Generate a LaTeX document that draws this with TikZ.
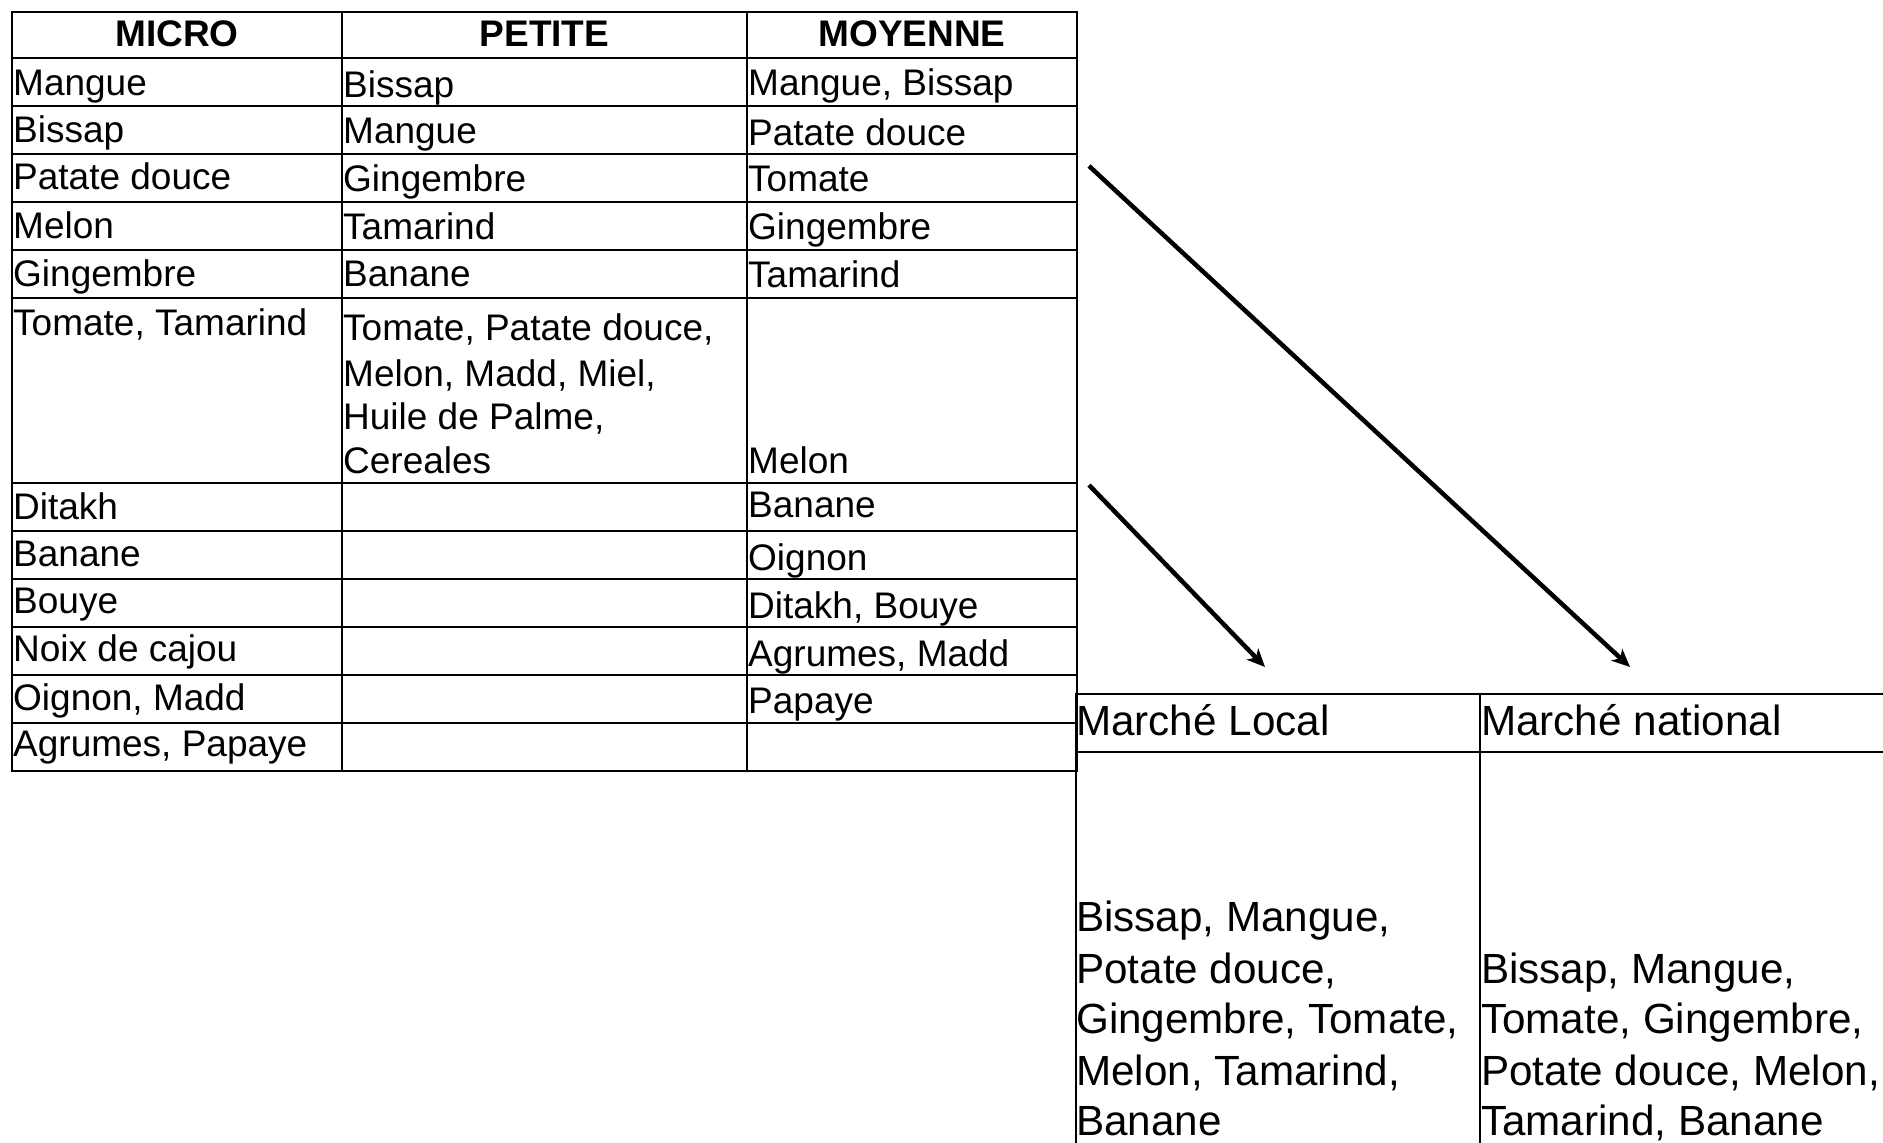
\documentclass[tikz,border=0pt]{standalone}
\usepackage{fontspec}
\setmainfont{Liberation Sans}
\usetikzlibrary{arrows.meta}
\begin{document}
\begin{tikzpicture}[x=1pt,y=-1pt,
  grid/.style={line width=2.5pt, line cap=rect},
  cell/.style={anchor=base west, inner sep=0pt, font=\fontsize{37}{44}\selectfont},
  head/.style={anchor=base, inner sep=0pt, font=\fontsize{37}{44}\selectfont\bfseries},
  mcell/.style={anchor=base west, inner sep=0pt, font=\fontsize{42.2}{50}\selectfont},
  arr/.style={line width=4.5pt, -{Stealth[length=18pt,width=16pt,inset=5pt]}}]

\useasboundingbox[fill=white] (0,0) rectangle (1883,1143);

% ---- left table grid
\foreach \yy in {12,58,106,154,202,250,298,483,531,579,627,675,723,771}
  \draw[grid] (12,\yy) -- (1077,\yy);
\foreach \xx in {12,342,747,1077}
  \draw[grid] (\xx,12) -- (\xx,771);

% ---- right table grid
\draw[grid] (1076,694) -- (1883,694);
\draw[grid] (1076,752) -- (1883,752);
\draw[grid] (1076,694) -- (1076,1143);
\draw[grid] (1480,694) -- (1480,1143);

% ---- headers
\node[head] (hmicro) at (177,46.5) {MICRO};
\node[head] (hpetite) at (544.5,46.5) {PETITE};
\node[head] (hmoy) at (912,46.5) {MOYENNE};

% ---- MICRO column
\node[cell] (a1) at (13,95) {Mangue};
\node[cell] (a2) at (13,142.5) {Bissap};
\node[cell] (a3) at (13,189) {Patate douce};
\node[cell] (a4) at (13,238) {Melon};
\node[cell] (a5) at (13,286.5) {Gingembre};
\node[cell] (a6) at (13,335) {Tomate, Tamarind};
\node[cell] (a7) at (13,519) {Ditakh};
\node[cell] (a8) at (13,566.5) {Banane};
\node[cell] (a9) at (13,613) {Bouye};
\node[cell] (a10) at (13,661.5) {Noix de cajou};
\node[cell] (a11) at (13,710) {Oignon, Madd};
\node[cell] (a12) at (13,756.5) {Agrumes, Papaye};

% ---- PETITE column
\node[cell] (b1) at (343,97) {Bissap};
\node[cell] (b2) at (343,143.5) {Mangue};
\node[cell] (b3) at (343,191.5) {Gingembre};
\node[cell] (b4) at (343,239) {Tamarind};
\node[cell] (b5) at (343,286.5) {Banane};
\node[cell] (b6a) at (343,340) {Tomate, Patate douce,};
\node[cell] (b6b) at (343,386) {Melon, Madd, Miel,};
\node[cell] (b6c) at (343,429.5) {Huile de Palme,};
\node[cell] (b6d) at (343,473) {Cereales};

% ---- MOYENNE column
\node[cell] (c1) at (748,95) {Mangue, Bissap};
\node[cell] (c2) at (748,145) {Patate douce};
\node[cell] (c3) at (748,191.5) {Tomate};
\node[cell] (c4) at (748,239) {Gingembre};
\node[cell] (c5) at (748,287) {Tamarind};
\node[cell] (c6) at (748,473) {Melon};
\node[cell] (c7) at (748,517.5) {Banane};
\node[cell] (c8) at (748,570) {Oignon};
\node[cell] (c9) at (748,618) {Ditakh, Bouye};
\node[cell] (c10) at (748,666.5) {Agrumes, Madd};
\node[cell] (c11) at (748,713) {Papaye};

% ---- right table texts
\node[mcell] (mlh) at (1076,735) {Marché Local};
\node[mcell] (mnh) at (1481,735) {Marché national};
\node[mcell] (ml1) at (1076,931.5) {Bissap, Mangue,};
\node[mcell] (ml2) at (1076,983) {Potate douce,};
\node[mcell] (ml3) at (1076,1033.5) {Gingembre, Tomate,};
\node[mcell] (ml4) at (1076,1085) {Melon, Tamarind,};
\node[mcell] (ml5) at (1076,1135) {Banane};
\node[mcell] (mn1) at (1481,983) {Bissap, Mangue,};
\node[mcell] (mn2) at (1481,1033.5) {Tomate, Gingembre,};
\node[mcell] (mn3) at (1481,1085) {Potate douce, Melon,};
\node[mcell] (mn4) at (1481,1135) {Tamarind, Banane};

% ---- arrows
\coordinate (s1) at (1089,166);
\coordinate (t1) at (1630,667);
\coordinate (s2) at (1089,485);
\coordinate (t2) at (1265,667);
\draw[arr] (s1) -- (t1);
\draw[arr] (s2) -- (t2);
\end{tikzpicture}
\end{document}
